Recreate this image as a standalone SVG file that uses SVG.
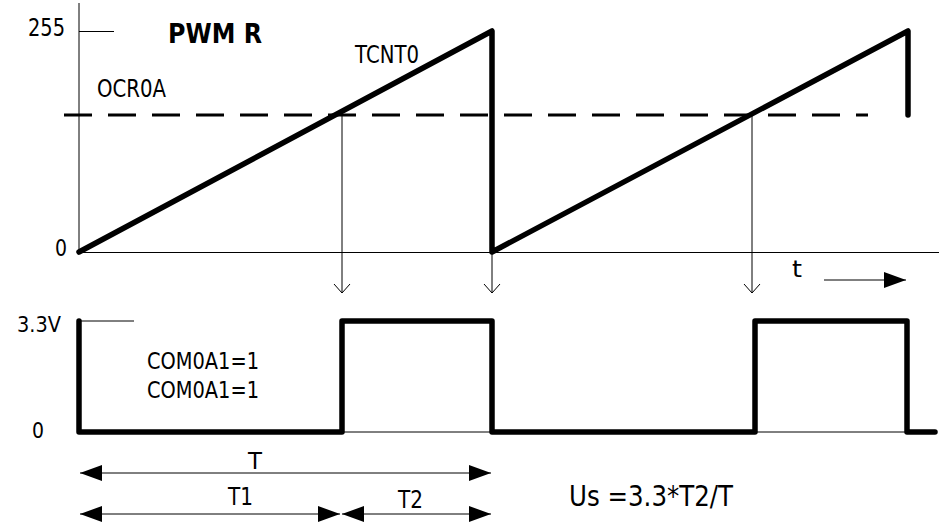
<svg xmlns="http://www.w3.org/2000/svg" width="941" height="531" viewBox="0 0 941 531">
<style>
text{font-family:"DejaVu Sans","Liberation Sans",sans-serif;fill:#000}
.thin{stroke:#000;stroke-width:1;fill:none}
.thick{stroke:#000;stroke-width:5.5;fill:none;stroke-linejoin:round;stroke-linecap:round}
.dash{stroke:#000;stroke-width:3;fill:none;stroke-dasharray:28 16}
</style>
<defs>
<marker id="open" markerUnits="userSpaceOnUse" markerWidth="20" markerHeight="20" refX="10" refY="10" orient="auto">
<path d="M1,2 L10,10 L1,18" fill="none" stroke="#000" stroke-width="1"/>
</marker>
<marker id="fill" markerUnits="userSpaceOnUse" markerWidth="24" markerHeight="18" refX="22" refY="8" orient="auto-start-reverse">
<path d="M0,0 L22,8 L0,16 Z" fill="#000"/>
</marker>
</defs>
<g id="axes">
<line class="thin" x1="79" y1="3" x2="79" y2="252"/>
<line class="thin" x1="79" y1="31.5" x2="114" y2="31.5"/>
<line class="thin" x1="79" y1="252.5" x2="939" y2="252.5"/>
<line class="thin" x1="79" y1="321" x2="134" y2="321"/>
<line class="thin" x1="79" y1="432" x2="937" y2="432"/>
</g>
<g id="labels">
<text x="28" y="36" font-size="24" textLength="37" lengthAdjust="spacingAndGlyphs">255</text>
<text x="168" y="43" font-size="26" font-weight="bold" textLength="94" lengthAdjust="spacingAndGlyphs">PWM R</text>
<text x="97" y="97" font-size="24" textLength="69" lengthAdjust="spacingAndGlyphs">OCR0A</text>
<text x="355" y="63" font-size="24" textLength="64" lengthAdjust="spacingAndGlyphs">TCNT0</text>
<text x="55" y="256" font-size="23" textLength="12" lengthAdjust="spacingAndGlyphs">0</text>
<text x="17" y="332" font-size="21" textLength="44" lengthAdjust="spacingAndGlyphs">3.3V</text>
<text x="147" y="369" font-size="23" textLength="112" lengthAdjust="spacingAndGlyphs">COM0A1=1</text>
<text x="147" y="398" font-size="23" textLength="112" lengthAdjust="spacingAndGlyphs">COM0A1=1</text>
<text x="32" y="438" font-size="21" textLength="12" lengthAdjust="spacingAndGlyphs">0</text>
<text x="792" y="277" font-size="23" textLength="10" lengthAdjust="spacingAndGlyphs">t</text>
<text x="248" y="469" font-size="23" textLength="14" lengthAdjust="spacingAndGlyphs">T</text>
<text x="228" y="505" font-size="24" textLength="25" lengthAdjust="spacingAndGlyphs">T1</text>
<text x="398" y="508" font-size="24" textLength="25" lengthAdjust="spacingAndGlyphs">T2</text>
<text x="569" y="506" font-size="29" textLength="164" lengthAdjust="spacingAndGlyphs">Us =3.3*T2/T</text>
</g>
<g id="ocr0a-level">
<line class="dash" x1="64" y1="115" x2="868" y2="115"/>
</g>
<g id="tcnt0">
<polyline class="thick" points="79,252 492,31 492,252 908,31 908,115"/>
</g>
<g id="pwm-output">
<polyline class="thick" points="79,321 79,432 342,432 342,321 492,321 492,432 755,432 755,321 907,321 907,432 935,432"/>
</g>
<g id="connectors">
<line class="thin" x1="342" y1="115" x2="342" y2="293" marker-end="url(#open)"/>
<line class="thin" x1="492" y1="252" x2="492" y2="293" marker-end="url(#open)"/>
<line class="thin" x1="752" y1="115" x2="752" y2="293" marker-end="url(#open)"/>
<line class="thin" x1="824" y1="280" x2="906" y2="280" marker-end="url(#fill)"/>
<line class="thin" x1="80" y1="473" x2="491" y2="473" marker-start="url(#fill)" marker-end="url(#fill)"/>
<line class="thin" x1="80" y1="514" x2="340" y2="514" marker-start="url(#fill)" marker-end="url(#fill)"/>
<line class="thin" x1="342" y1="514" x2="491" y2="514" marker-start="url(#fill)" marker-end="url(#fill)"/>
</g>
</svg>
